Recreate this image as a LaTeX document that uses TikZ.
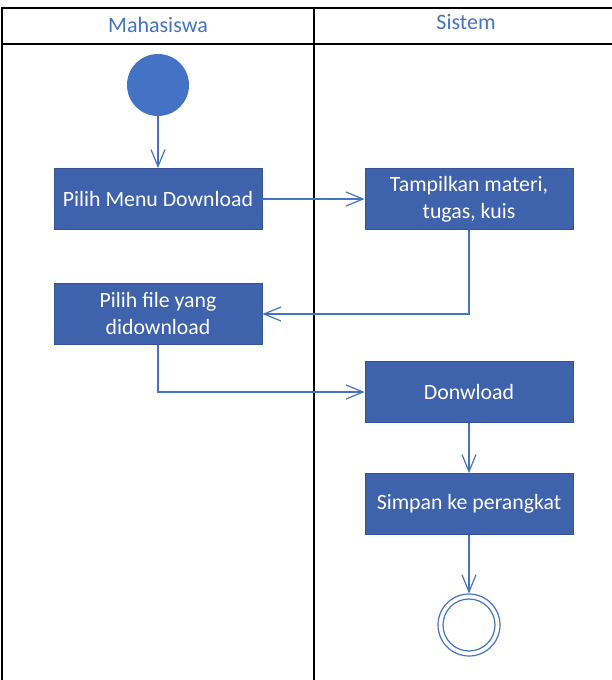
\documentclass[tikz,border=0pt]{standalone}
\usepackage{fontspec}
\setmainfont{Carlito}
\usepackage{tikz}
\usetikzlibrary{arrows.meta, positioning, calc}
\definecolor{actfill}{RGB}{63,98,172}
\definecolor{actedge}{RGB}{52,84,150}
\definecolor{flowline}{RGB}{68,114,196}
\tikzset{
	actbox/.style={draw=actedge, fill=actfill, minimum width=208pt, minimum height=61pt, text=white, align=center, font=\fontsize{21.8}{27}\selectfont, line width=0.8pt},
	flowarr/.style={-{Straight Barb[length=17pt, width=14pt, line width=1.2pt]}, draw=flowline, line width=1.3pt},
	lanetitle/.style={text=flowline, font=\fontsize{22}{26}\selectfont},
}
\begin{document}
\begin{tikzpicture}[x=1pt, y=-1pt]
	\useasboundingbox (0,0) rectangle (612,680);
	% swimlanes
	\draw[line width=1.4pt] (2,680) -- (2,8) -- (612,8);
	\draw[line width=1.4pt] (2,44) -- (612,44);
	\draw[line width=1.4pt] (314,8) -- (314,680);
	\node[lanetitle] (lmhs) at (158,25) {Mahasiswa};
	\node[lanetitle] (lsis) at (466,22) {Sistem};
	% activities
	\node[circle, fill=flowline, minimum size=62pt, inner sep=0pt] (start) at (158,85) {};
	\node[actbox] (menu) at (158,199) {Pilih Menu Download};
	\node[actbox] (tampil) at (469,199) {Tampilkan materi,\\tugas, kuis};
	\node[actbox] (pilih) at (158,314) {Pilih file yang\\didownload};
	\node[actbox] (down) at (469,392) {Donwload};
	\node[actbox] (simpan) at (469,504) {Simpan ke perangkat};
	\node[circle, draw=flowline, line width=1.2pt, minimum size=62pt, inner sep=0pt] (stop) at (469,625) {};
	\node[circle, draw=flowline, line width=1.2pt, minimum size=52pt, inner sep=0pt] (stopin) at (469,625) {};
	% flows
	\draw[flowarr] (start) -- (menu);
	\draw[flowarr] (menu) -- (tampil);
	\draw[flowarr] (tampil.south) |- (pilih.east);
	\draw[flowarr] (pilih.south) |- (down.west);
	\draw[flowarr] (down) -- (simpan);
	\draw[flowarr] (simpan) -- (stop);
\end{tikzpicture}
\end{document}
